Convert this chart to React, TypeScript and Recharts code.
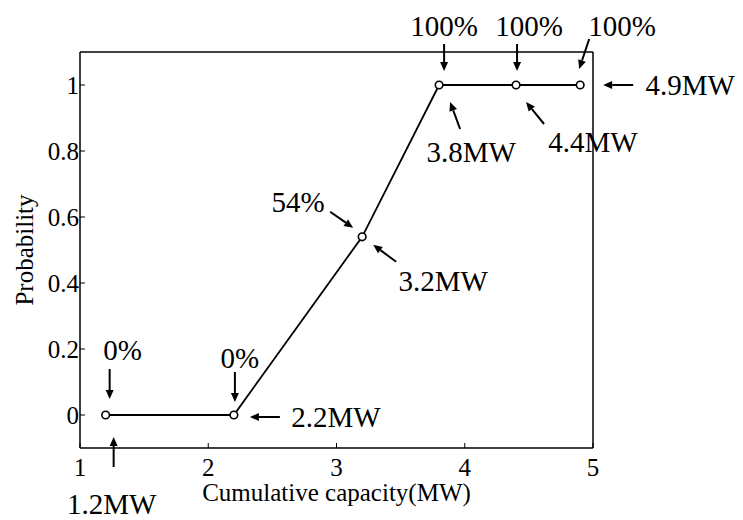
import { LineChart, Line, XAxis, YAxis, LabelList, Label } from 'recharts';

const capacity = [1.2, 2.2, 3.2, 3.8, 4.4, 4.9];
const probability = [0, 0, 0.54, 1, 1, 1];
const xTicks = [1, 2, 3, 4, 5];
const yTicks = [0, 0.2, 0.4, 0.6, 0.8, 1];

const data = capacity.map((c, i) => ({ capacity: c, probability: probability[i] }));

// callout placement relative to each point: text centre (tx, ty), arrow tail (ax, ay) -> head (bx, by)
const pctCallouts = [
  { tx: 17, ty: -65, ax: 4, ay: -46, bx: 4, by: -16 },
  { tx: 6, ty: -57, ax: 1, ay: -43, bx: 1, by: -13 },
  { tx: -64, ty: -35, ax: -32, ay: -25, bx: -9, by: -9 },
  { tx: 5, ty: -59, ax: 5, ay: -41, bx: 5, by: -14 },
  { tx: 13, ty: -59, ax: 1, ay: -41, bx: 1, by: -14 },
  { tx: 42, ty: -59, ax: 9, ay: -46, bx: -1, by: -16 },
];
const mwCallouts = [
  { tx: 6, ty: 89, ax: 8, ay: 52, bx: 8, by: 22 },
  { tx: 102, ty: 2, ax: 46, ay: 2, bx: 16, by: 2 },
  { tx: 81, ty: 44, ax: 34, ay: 25, bx: 11, by: 8 },
  { tx: 32, ty: 67, ax: 21, ay: 44, bx: 11, by: 17 },
  { tx: 77, ty: 57, ax: 28, ay: 39, bx: 10, by: 17 },
  { tx: 110, ty: 0, ax: 53, ay: 0, bx: 23, by: 0 },
];

const FONT = "'Liberation Serif', 'Times New Roman', serif";

const Arrow = ({ x1, y1, x2, y2 }: { x1: number; y1: number; x2: number; y2: number }) => {
  const ang = Math.atan2(y2 - y1, x2 - x1);
  const len = 9;
  const half = 4;
  const bx = x2 - len * Math.cos(ang);
  const by = y2 - len * Math.sin(ang);
  const px = -Math.sin(ang) * half;
  const py = Math.cos(ang) * half;
  return (
    <g>
      <line x1={x1} y1={y1} x2={bx} y2={by} stroke="#000" strokeWidth={2} />
      <polygon points={`${x2},${y2} ${bx + px},${by + py} ${bx - px},${by - py}`} fill="#000" />
    </g>
  );
};

const Callout = ({ x, y, text, c }: { x: number; y: number; text: string; c: any }) => (
  <g>
    <text
      x={x + c.tx}
      y={y + c.ty}
      textAnchor="middle"
      dominantBaseline="central"
      fontFamily={FONT}
      fontSize={29}
      fill="#000"
    >
      {text}
    </text>
    <Arrow x1={x + c.ax} y1={y + c.ay} x2={x + c.bx} y2={y + c.by} />
  </g>
);

const renderCallouts = (props: any) => {
  const { x, y, index } = props;
  if (index == null || x == null || y == null) return null;
  return (
    <g>
      <Callout x={x} y={y} text={`${Math.round(probability[index] * 100)}%`} c={pctCallouts[index]} />
      <Callout x={x} y={y} text={`${capacity[index]}MW`} c={mwCallouts[index]} />
    </g>
  );
};

const tickStyle = { fill: '#000', fontSize: 25, fontFamily: FONT };
const axisLine = { stroke: '#000', strokeWidth: 1.5 };
const tickLine = { stroke: '#000', strokeWidth: 1 };

export default function App() {
  return (
    <LineChart
      width={735}
      height={512}
      data={data}
      margin={{ top: 43, right: 149, left: 12, bottom: 42 }}
      style={{ overflow: 'visible' }}
    >
      <XAxis
        dataKey="capacity"
        type="number"
        domain={[1, 5]}
        ticks={xTicks}
        height={30}
        tickSize={-5}
        tickMargin={15}
        tick={tickStyle}
        axisLine={axisLine}
        tickLine={tickLine}
      >
        <Label
          value="Cumulative capacity(MW)"
          position="bottom"
          offset={5}
          style={{ fill: '#000', fontSize: 25, fontFamily: FONT }}
        />
      </XAxis>
      {/* box edges: top and right axes carry the inward ticks only */}
      <XAxis
        xAxisId="top"
        orientation="top"
        type="number"
        domain={[1, 5]}
        ticks={xTicks}
        height={1}
        tick={false}
        tickSize={-5}
        axisLine={axisLine}
        tickLine={tickLine}
      />
      <YAxis
        dataKey="probability"
        type="number"
        domain={[-0.1, 1.1]}
        ticks={yTicks}
        width={60}
        tickSize={-5}
        tickMargin={6}
        tick={tickStyle}
        axisLine={axisLine}
        tickLine={tickLine}
      >
        <Label
          value="Probability"
          angle={-90}
          position="insideLeft"
          offset={4}
          style={{ fill: '#000', fontSize: 25, fontFamily: FONT, textAnchor: 'middle' }}
        />
      </YAxis>
      <YAxis
        yAxisId="right"
        orientation="right"
        type="number"
        domain={[-0.1, 1.1]}
        ticks={yTicks}
        width={1}
        tick={false}
        tickSize={-5}
        axisLine={axisLine}
        tickLine={tickLine}
      />
      <Line
        type="linear"
        dataKey="probability"
        stroke="#000"
        strokeWidth={1.8}
        dot={{ r: 3.8, stroke: '#000', strokeWidth: 1.6, fill: '#fff' }}
        activeDot={false}
        isAnimationActive={false}
      >
        <LabelList dataKey="probability" content={renderCallouts} />
      </Line>
    </LineChart>
  );
}
